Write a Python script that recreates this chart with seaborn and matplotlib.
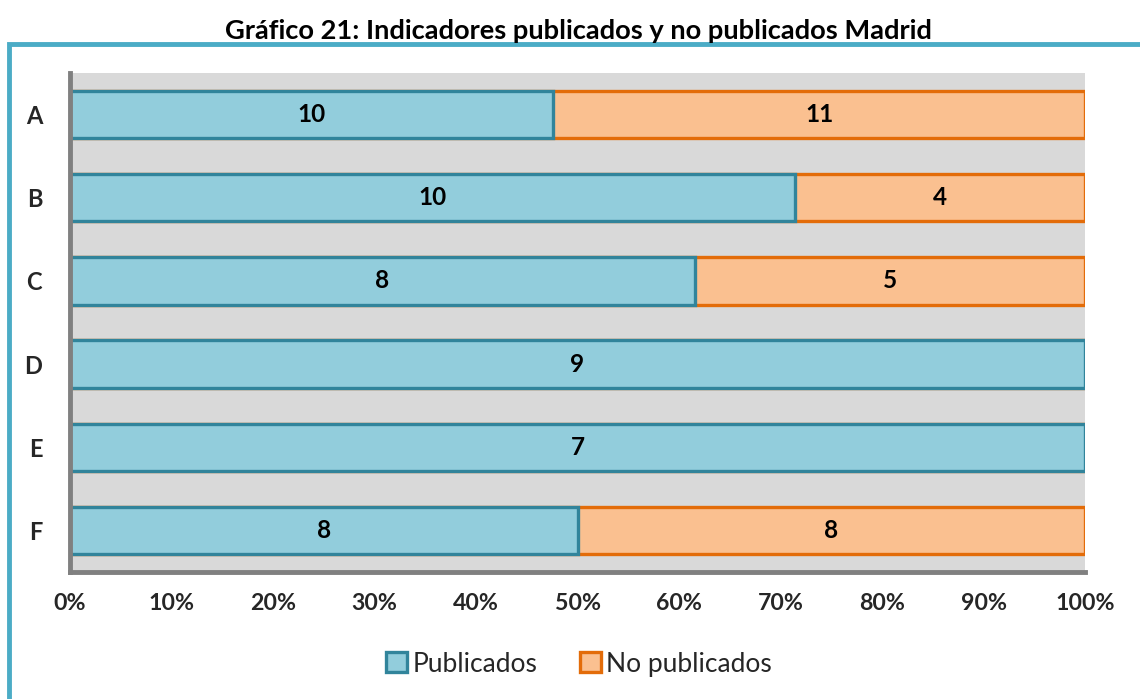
import pandas as pd
import numpy as np
import seaborn as sns
import matplotlib.pyplot as plt
from matplotlib.patches import Rectangle, Patch

categories = ["A", "B", "C", "D", "E", "F"]
publicados = [10, 10, 8, 9, 7, 8]
no_publicados = [11, 4, 5, 0, 0, 8]
x_ticks = [0, 10, 20, 30, 40, 50, 60, 70, 80, 90, 100]
title = "Gráfico 21: Indicadores publicados y no publicados Madrid"

PUB_FACE, PUB_EDGE = "#92CDDC", "#31849B"
NOP_FACE, NOP_EDGE = "#FAC090", "#E36C09"
FRAME = "#4BACC6"
TXT = "#262626"

sns.set_theme(style="white")
plt.rcParams["font.family"] = ["Lato", "DejaVu Sans"]

df = pd.DataFrame({"cat": categories, "pub": publicados, "nop": no_publicados})
df["total"] = df["pub"] + df["nop"]
df["pub_pct"] = df["pub"] / df["total"] * 100
df["all_pct"] = 100.0

fig = plt.figure(figsize=(11.4, 6.99), dpi=100)
ax = fig.add_axes([0.0614, 0.1817, 0.8904, 0.7139])
ax.set_facecolor("#D9D9D9")

sns.barplot(data=df, x="all_pct", y="cat", orient="h", color=NOP_FACE,
            edgecolor=NOP_EDGE, linewidth=2.4, width=0.57, saturation=1, ax=ax)
sns.barplot(data=df, x="pub_pct", y="cat", orient="h", color=PUB_FACE,
            edgecolor=PUB_EDGE, linewidth=2.4, width=0.57, saturation=1, ax=ax)

nop_c, pub_c = ax.containers[0], ax.containers[1]
# orange label sits at centre of its own segment
for bar, n, p in zip(nop_c, df["nop"], df["pub_pct"]):
    if n > 0:
        y = bar.get_y() + bar.get_height() / 2
        ax.text((p + 100) / 2, y, str(n), ha="center", va="center",
                fontsize=17.5, fontweight="bold", color="black")
ax.bar_label(pub_c, labels=[str(v) for v in df["pub"]], label_type="center",
             fontsize=17.5, fontweight="bold", color="black")

ax.set_xlim(0, 100)
ax.set_ylim(5.5, -0.5)
ax.set_xticks(x_ticks)
ax.set_xticklabels([f"{t}%" for t in x_ticks])
ax.set_xlabel("")
ax.set_ylabel("")
ax.tick_params(axis="x", length=0, pad=15, labelsize=16.7, labelcolor=TXT)
ax.tick_params(axis="y", length=0, pad=20, labelsize=17, labelcolor=TXT)
for lbl in ax.get_xticklabels() + ax.get_yticklabels():
    lbl.set_fontweight("bold")

for s in ["top", "right"]:
    ax.spines[s].set_visible(False)
for s in ["left", "bottom"]:
    ax.spines[s].set_color("#808080")
    ax.spines[s].set_linewidth(3.5)

fig.text(0.507, 0.955, title, ha="center", va="center", fontsize=19.6,
         fontweight="bold", color="black")

fig.patches.append(Rectangle((9 / 1140, -0.1), 1.2, 1.1 - 0.1 + (1 - 44 / 699) - 0.9,
                             transform=fig.transFigure, fill=False,
                             edgecolor=FRAME, linewidth=3.5))

handles = [Patch(facecolor=PUB_FACE, edgecolor=PUB_EDGE, linewidth=2.4, label="Publicados"),
           Patch(facecolor=NOP_FACE, edgecolor=NOP_EDGE, linewidth=2.4, label="No publicados")]
fig.legend(handles=handles, loc="center", bbox_to_anchor=(0.508, 0.05), ncol=2,
           frameon=False, fontsize=19, handlelength=0.8, handleheight=0.8,
           handletextpad=0.2, columnspacing=1.6)

fig.savefig("out.png", dpi=100)
